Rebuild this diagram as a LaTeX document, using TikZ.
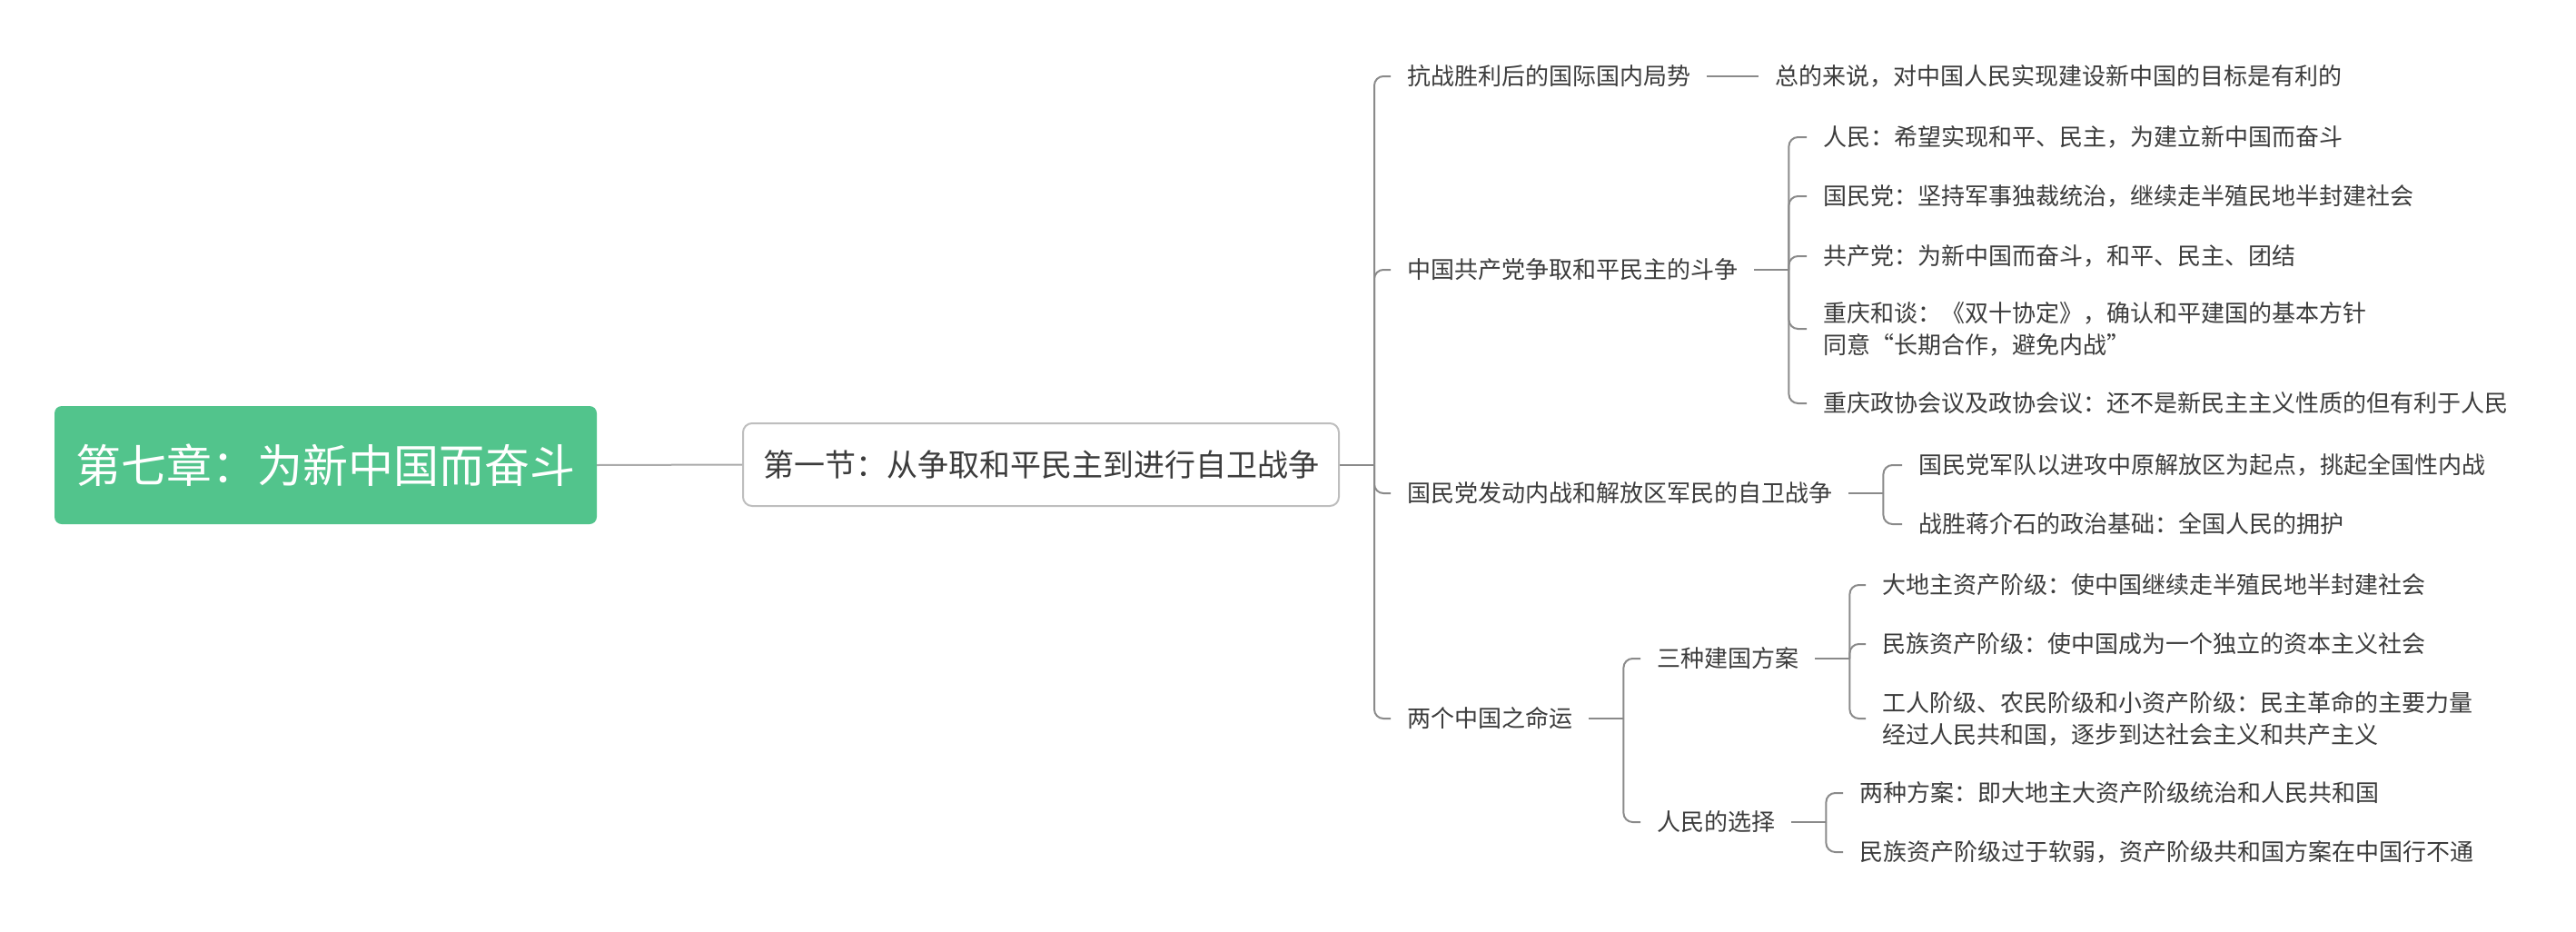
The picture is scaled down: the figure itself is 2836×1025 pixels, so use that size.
\documentclass[tikz,border=0pt]{standalone}
\usepackage{fontspec}
\newfontfamily\cjk{Noto Sans CJK SC}
\usetikzlibrary{calc}
\definecolor{rootg}{RGB}{82,196,140}
\definecolor{txtc}{RGB}{60,60,60}
\definecolor{linec}{RGB}{138,138,138}
\definecolor{lline}{RGB}{170,170,170}
\definecolor{bord}{RGB}{190,190,190}
\newcommand\mystrut{\rule[-0.12em]{0pt}{1em}}
\begin{document}
\begin{tikzpicture}[x=1pt,y=-1pt,
  leaf/.style={anchor=west, inner xsep=18pt, inner ysep=0pt, text=txtc,
    font=\cjk\fontsize{26}{34.5}\selectfont, align=left},
  conn/.style={draw=linec, line width=2pt, rounded corners=10pt},
  rootline/.style={draw=lline, line width=2pt},
  rootbox/.style={fill=rootg, rounded corners=8pt, minimum width=597pt, minimum height=130pt,
    text=white, font=\cjk\fontsize{50}{60}\selectfont, inner sep=0pt},
  secbox/.style={draw=bord, line width=2pt, fill=white, rounded corners=10pt, minimum width=656pt,
    minimum height=91pt, text=txtc, font=\cjk\fontsize{34}{40}\selectfont, inner sep=0pt}]
\useasboundingbox (0,0) rectangle (2836,1025);

\node[rootbox] (root) at (358.5,512) {\mystrut 第七章：为新中国而奋斗};
\node[secbox] (sec) at (1146,511.5) {\mystrut 第一节：从争取和平民主到进行自卫战争};
\draw[rootline] (root.east) -- (sec.west);

% level 3
\node[leaf] (a1) at (1531,84) {\mystrut 抗战胜利后的国际国内局势};
\node[leaf] (a2) at (1531,297) {\mystrut 中国共产党争取和平民主的斗争};
\node[leaf] (a3) at (1531,543) {\mystrut 国民党发动内战和解放区军民的自卫战争};
\node[leaf] (a4) at (1531,791) {\mystrut 两个中国之命运};

\draw[conn] (sec.east) -- ++(38,0) coordinate (t0);
\foreach \c in {a1,a2,a3,a4} \draw[conn] (t0) |- (\c.west);

% a1
\node[leaf] (b1) at (1936,84) {\mystrut 总的来说，对中国人民实现建设新中国的目标是有利的};
\draw[conn] (a1.east) -- (b1.west);

% a2
\node[leaf] (c1) at (1989,151) {\mystrut 人民：希望实现和平、民主，为建立新中国而奋斗};
\node[leaf] (c2) at (1989,216) {\mystrut 国民党：坚持军事独裁统治，继续走半殖民地半封建社会};
\node[leaf] (c3) at (1989,282) {\mystrut 共产党：为新中国而奋斗，和平、民主、团结};
\node[leaf] (c4) at (1989,362) {\mystrut 重庆和谈：《双十协定》，确认和平建国的基本方针\\\mystrut 同意“长期合作，避免内战”};
\node[leaf] (c5) at (1989,444) {\mystrut 重庆政协会议及政协会议：还不是新民主主义性质的但有利于人民};
\draw[conn] (a2.east) -- ++(38,0) coordinate (t2);
\foreach \c in {c1,c2,c3,c4,c5} \draw[conn] (t2) |- (\c.west);

% a3
\node[leaf] (d1) at (2094,512) {\mystrut 国民党军队以进攻中原解放区为起点，挑起全国性内战};
\node[leaf] (d2) at (2094,577) {\mystrut 战胜蒋介石的政治基础：全国人民的拥护};
\draw[conn] (a3.east) -- ++(38,0) coordinate (t3);
\foreach \c in {d1,d2} \draw[conn] (t3) |- (\c.west);

% a4
\node[leaf] (e1) at (1806,725) {\mystrut 三种建国方案};
\node[leaf] (e2) at (1806,905) {\mystrut 人民的选择};
\draw[conn] (a4.east) -- ++(38,0) coordinate (t4);
\foreach \c in {e1,e2} \draw[conn] (t4) |- (\c.west);

% e1
\node[leaf] (f1) at (2054,644) {\mystrut 大地主资产阶级：使中国继续走半殖民地半封建社会};
\node[leaf] (f2) at (2054,709) {\mystrut 民族资产阶级：使中国成为一个独立的资本主义社会};
\node[leaf] (f3) at (2054,791) {\mystrut 工人阶级、农民阶级和小资产阶级：民主革命的主要力量\\\mystrut 经过人民共和国，逐步到达社会主义和共产主义};
\draw[conn] (e1.east) -- ++(38,0) coordinate (t5);
\foreach \c in {f1,f2,f3} \draw[conn] (t5) |- (\c.west);

% e2
\node[leaf] (g1) at (2029,873) {\mystrut 两种方案：即大地主大资产阶级统治和人民共和国};
\node[leaf] (g2) at (2029,938) {\mystrut 民族资产阶级过于软弱，资产阶级共和国方案在中国行不通};
\draw[conn] (e2.east) -- ++(38,0) coordinate (t6);
\foreach \c in {g1,g2} \draw[conn] (t6) |- (\c.west);
\end{tikzpicture}
\end{document}
